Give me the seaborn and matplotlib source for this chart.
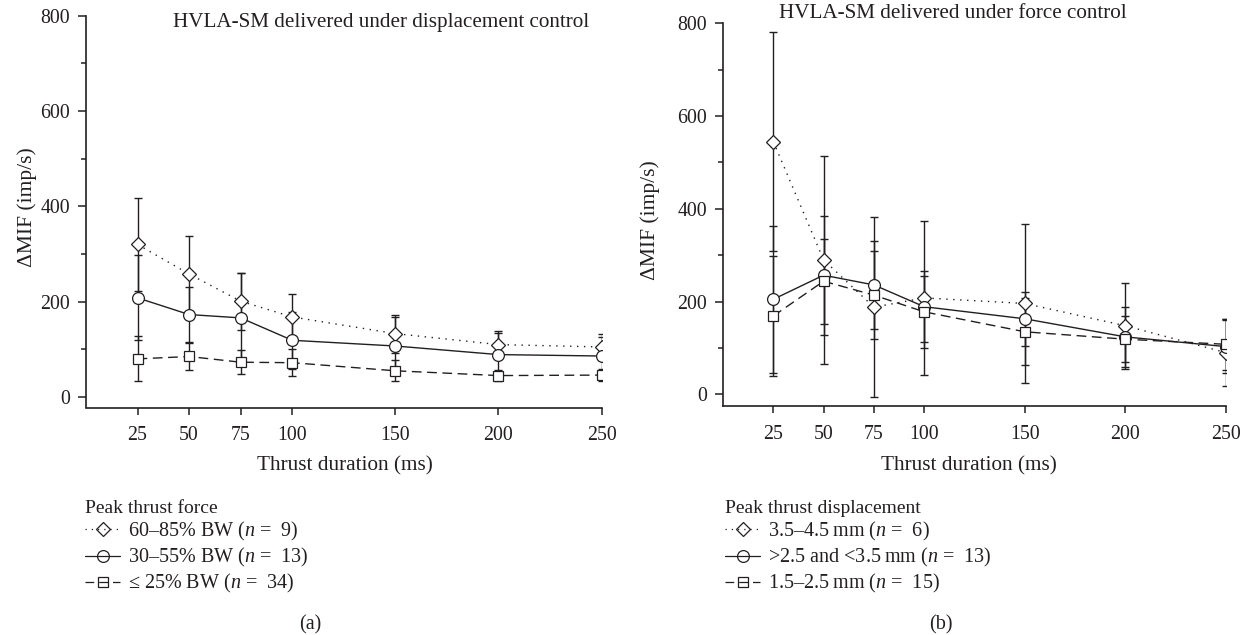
# MIF change vs thrust duration, two HVLA-SM control modes

import pandas as pd
import matplotlib.pyplot as plt
import seaborn as sns
from matplotlib.lines import Line2D


# Data (means and SDs)
durations = [25, 50, 75, 100, 150, 200, 250]

# (a) displacement control, grouped by peak thrust force
a_labels = ["60\u201385% BW ($n$ =  9)", "30\u201355% BW ($n$ =  13)",
            "\u2264 25% BW ($n$ =  34)"]
a_high_mean = [320, 258, 201, 168, 133, 110, 105]
a_high_sd = [98, 79, 60, 49, 40, 29, 27]
a_mid_mean = [208, 173, 166, 119, 107, 89, 86]
a_mid_sd = [89, 58, 95, 60, 61, 45, 40]
a_low_mean = [80, 85, 73, 72, 55, 45, 46]
a_low_sd = [47, 28, 25, 28, 22, 11, 13]

# (b) force control, grouped by peak thrust displacement
b_labels = ["3.5\u20134.5\u2009mm ($n$ =  6)", ">2.5 and <3.5\u2009mm ($n$ =  13)",
            "1.5\u20132.5\u2009mm ($n$ =  15)"]
b_high_mean = [545, 290, 188, 208, 196, 148, 90]
b_high_sd = [236, 224, 194, 166, 172, 93, 72]
b_mid_mean = [205, 257, 236, 189, 163, 124, 103]
b_mid_sd = [159, 128, 95, 76, 58, 64, 57]
b_low_mean = [169, 244, 214, 178, 135, 119, 108]
b_low_sd = [130, 92, 95, 78, 72, 50, 55]


sns.set_style("ticks")
plt.rcParams['font.family'] = ['Liberation Serif', 'DejaVu Serif']
plt.rcParams['mathtext.fontset'] = 'custom'
plt.rcParams['mathtext.rm'] = 'Liberation Serif'
plt.rcParams['mathtext.it'] = 'Liberation Serif:italic'

ink = '#231f20'
W, H = 1245, 635

styles = ['high', 'mid', 'low']
marker_map = {'high': 'D', 'mid': 'o', 'low': 's'}
dash_map = {'high': (1, 4), 'mid': None, 'low': (7, 4)}
size_map = {'high': 7, 'mid': 8.5, 'low': 7}


def make_df(means, sds):
    rows = []
    for key, m, s in zip(styles, means, sds):
        for d, v, e in zip(durations, m, s):
            rows.append({'duration': d, 'mean': v, 'sd': e, 'group': key})
    return pd.DataFrame(rows)


def line_kw(key):
    if dash_map[key] is None:
        return {'linestyle': '-'}
    return {'linestyle': (0, dash_map[key])}


def draw_panel(ax, df):
    for key in styles:
        sub = df[df['group'] == key]
        ax.errorbar(sub['duration'], sub['mean'], yerr=sub['sd'], fmt='none',
                    ecolor=ink, elinewidth=1.0, capsize=2.8, capthick=1.0, zorder=2)
        sns.lineplot(data=sub, x='duration', y='mean', ax=ax, color=ink,
                     marker=marker_map[key], markersize=size_map[key],
                     markerfacecolor='white', markeredgecolor=ink,
                     markeredgewidth=0.9, linewidth=1.0, legend=False, zorder=3,
                     **line_kw(key))

    ax.set_xlim(0, 250)
    ax.set_xticks(durations)
    ax.set_yticks([0, 200, 400, 600, 800])
    ax.set_yticks([100, 300, 500, 700], minor=True)
    ax.set_xlabel('')
    ax.set_ylabel('')
    sns.despine(ax=ax)
    for sp in ['left', 'bottom']:
        ax.spines[sp].set_linewidth(1.2)
        ax.spines[sp].set_color(ink)
    ax.spines['left'].set_bounds(ax.get_ylim()[0], 800)
    ax.tick_params(axis='y', which='major', length=5.5, width=1.1, color=ink,
                   labelsize=14.3, labelcolor=ink, pad=6)
    ax.tick_params(axis='y', which='minor', length=3.5, width=1.1, color=ink)
    ax.tick_params(axis='x', length=5, width=1.1, color=ink,
                   labelsize=14.3, labelcolor=ink, pad=8.5)


def add_legend(ax, title, labels, x, y):
    handles = []
    for key in styles:
        handles.append(Line2D([0], [0], color=ink, lw=0.9, **line_kw(key),
                              marker=marker_map[key], markersize=size_map[key],
                              fillstyle='none', markeredgecolor=ink, markeredgewidth=0.9))
    leg = ax.legend(handles, labels, title=title, loc='upper left',
                    bbox_to_anchor=(x / W, 1 - y / H), bbox_transform=ax.figure.transFigure,
                    frameon=False, fontsize=14.5, title_fontsize=14, alignment='left',
                    handlelength=1.75, handletextpad=0.4, labelspacing=0.15,
                    borderpad=0, borderaxespad=0)
    for t in leg.get_texts():
        t.set_color(ink)
    leg.get_title().set_color(ink)


df_a = make_df([a_high_mean, a_mid_mean, a_low_mean], [a_high_sd, a_mid_sd, a_low_sd])
df_b = make_df([b_high_mean, b_mid_mean, b_low_mean], [b_high_sd, b_mid_sd, b_low_sd])

fig = plt.figure(figsize=(W / 100, H / 100), dpi=100)

ax_a = fig.add_axes([86 / W, 1 - 407.5 / H, (601.6 - 86) / W, (407.5 - 15.7) / H])
ax_a.set_ylim(-22, 800)
draw_panel(ax_a, df_a)

ax_b = fig.add_axes([723 / W, 1 - 406 / H, (1226 - 723) / W, (406 - 23.3) / H])
ax_b.set_ylim(-25, 800)
draw_panel(ax_b, df_b)

# panel texts
fig.text(381 / W, 1 - 22 / H, 'HVLA-SM delivered under displacement control',
         ha='center', va='center', fontsize=15.2, color=ink)
fig.text(953 / W, 1 - 14 / H, 'HVLA-SM delivered under force control',
         ha='center', va='center', fontsize=15.2, color=ink)

fig.text(27 / W, 1 - 207 / H, '\u0394MIF (imp/s)', rotation=90,
         ha='center', va='center', fontsize=15.5, color=ink)
fig.text(650 / W, 1 - 220 / H, '\u0394MIF (imp/s)', rotation=90,
         ha='center', va='center', fontsize=15.5, color=ink)

fig.text(345 / W, 1 - 466 / H, 'Thrust duration (ms)', ha='center', va='center',
         fontsize=15.3, color=ink)
fig.text(969 / W, 1 - 466 / H, 'Thrust duration (ms)', ha='center', va='center',
         fontsize=15.3, color=ink)

add_legend(ax_a, 'Peak thrust force', a_labels, 85, 500)
add_legend(ax_b, 'Peak thrust displacement', b_labels, 725, 500)

fig.text(310 / W, 1 - 625 / H, '(a)', ha='center', va='center', fontsize=14.5, color=ink)
fig.text(941 / W, 1 - 625 / H, '(b)', ha='center', va='center', fontsize=14.5, color=ink)

fig.savefig('out.png', dpi=100)
